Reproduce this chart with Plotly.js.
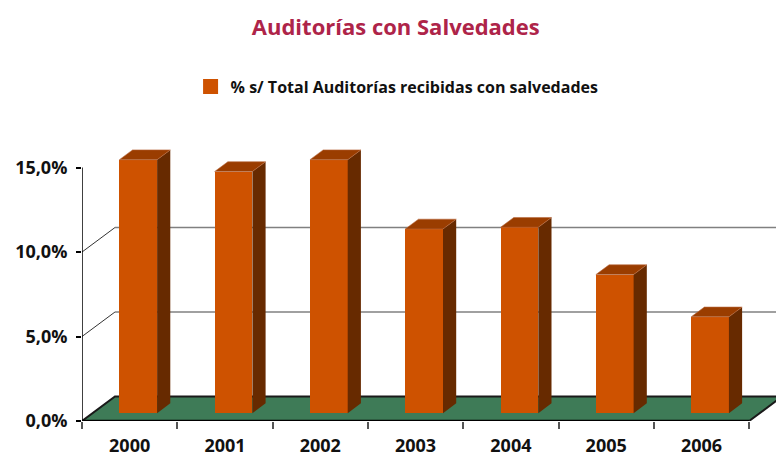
<!DOCTYPE html>
<html>
<head>
<meta charset="utf-8">
<script src="https://cdn.plot.ly/plotly-3.0.1.min.js"></script>
<style>html,body{margin:0;padding:0;background:#fff;}#chart{width:776px;height:457px;}</style>
</head>
<body>
<div id="chart"></div>
<script>
// ---- data ----
var years = ['2000', '2001', '2002', '2003', '2004', '2005', '2006'];
var pctSalvedades = [15.0, 14.3, 15.0, 10.9, 11.0, 8.2, 5.7];
var yTickVals = [0, 5, 10, 15];
var yTickText = ['0,0%', '5,0%', '10,0%', '15,0%'];
var seriesName = '% s/ Total Auditorías recibidas con salvedades';

(function () {
  // ---- 3D projection (data units) ----
  var DX = 0.346, DY = 1.45;      // full depth offset of the floor
  var D0 = 0.32, DEPTH = 0.4;     // bar front depth and bar depth (fractions of full depth)
  var BAR_W = 0.396, BAR_C = 0.59;
  var XMAX = 7.282, YMAX = 16.63;
  var n = years.length;

  var barBase = D0 * DY;
  var sdx = DEPTH * DX, sdy = DEPTH * DY;
  var xc = years.map(function (_, i) { return i + BAR_C; });

  var sideX = [], sideY = [], topX = [], topY = [];
  for (var i = 0; i < n; i++) {
    var xL = xc[i] - BAR_W / 2, xR = xc[i] + BAR_W / 2, yTop = barBase + pctSalvedades[i];
    sideX.push(xR, xR + sdx, xR + sdx, xR, xR, null);
    sideY.push(barBase, barBase + sdy, yTop + sdy, yTop, barBase, null);
    topX.push(xL, xL + sdx, xR + sdx, xR, xL, null);
    topY.push(yTop, yTop + sdy, yTop + sdy, yTop, yTop, null);
  }

  var traces = [
    { type: 'bar', x: xc, y: pctSalvedades, base: barBase, width: BAR_W,
      marker: { color: '#CE5200', line: { width: 0 } }, showlegend: false, hoverinfo: 'skip' },
    { type: 'scatter', mode: 'lines', x: sideX, y: sideY, fill: 'toself', fillcolor: '#672A00',
      line: { width: 0, color: '#672A00' }, showlegend: false, hoverinfo: 'skip' },
    { type: 'scatter', mode: 'lines', x: topX, y: topY, fill: 'toself', fillcolor: '#9A3D00',
      line: { width: 0.6, color: '#B86A40' }, showlegend: false, hoverinfo: 'skip' },
    { type: 'scatter', mode: 'markers', x: [-5], y: [-5], name: seriesName,
      marker: { symbol: 'square', size: 15, color: '#CE5200' }, hoverinfo: 'skip' }
  ];

  var shapes = [];
  [5, 10].forEach(function (v) {
    shapes.push({ type: 'line', layer: 'below', xref: 'x', yref: 'y', x0: DX, y0: v + DY, x1: XMAX + 1, y1: v + DY,
      line: { color: '#808080', width: 1.5 } });
    shapes.push({ type: 'line', layer: 'below', xref: 'x', yref: 'y', x0: 0, y0: v, x1: DX, y1: v + DY,
      line: { color: '#333333', width: 1 } });
  });
  shapes.push({ type: 'path', layer: 'below', xref: 'x', yref: 'y',
    path: 'M 0,0 L ' + n + ',0 L ' + (n + DX) + ',' + DY + ' L ' + DX + ',' + DY + ' Z',
    fillcolor: '#3E7B57', line: { color: '#1A1A1A', width: 2 } });
  shapes.push({ type: 'line', layer: 'below', xref: 'x', yref: 'y', x0: 0, y0: 0, x1: n, y1: 0,
    line: { color: '#000000', width: 2.5 } });
  shapes.push({ type: 'line', layer: 'below', xref: 'x', yref: 'y', x0: 0, y0: 0, x1: 0, y1: 15,
    line: { color: '#000000', width: 1.5 } });

  var boundaries = [];
  for (var k = 0; k <= n; k++) boundaries.push(k);

  var layout = {
    width: 776, height: 457,
    margin: { l: 82, r: 0, t: 140, b: 36, pad: 0 },
    paper_bgcolor: '#FFFFFF', plot_bgcolor: 'rgba(0,0,0,0)',
    font: { family: 'Open Sans, sans-serif', color: '#111111' },
    title: { text: 'Auditorías con Salvedades', x: 0.51, xanchor: 'center', y: 0.94, yanchor: 'middle',
      font: { size: 22, weight: 700, color: '#AE2449' } },
    showlegend: true,
    legend: { orientation: 'h', x: 0.454, xanchor: 'center', y: 1.19, yanchor: 'middle',
      font: { size: 16, weight: 700, color: '#111111' } },
    xaxis: { range: [0, XMAX], tickmode: 'array', tickvals: years.map(function (_, i) { return i + 0.5; }),
      ticktext: years, showgrid: false, zeroline: false, showline: false, ticks: '',
      ticklabelstandoff: 12,
      minor: { tickmode: 'array', tickvals: boundaries, ticks: 'outside', ticklen: 7, tickwidth: 1.5, tickcolor: '#555555', showgrid: false },
      tickfont: { size: 18, weight: 700, color: '#111111' }, fixedrange: true },
    yaxis: { range: [0, YMAX], tickmode: 'array', tickvals: yTickVals, ticktext: yTickText,
      showgrid: false, zeroline: false, showline: false, ticks: 'outside', ticklen: 5, tickwidth: 1.5, tickcolor: '#000000',
      ticklabelstandoff: 5,
      tickfont: { size: 18, weight: 700, color: '#111111' }, fixedrange: true },
    shapes: shapes,
    bargap: 0
  };

  Plotly.newPlot('chart', traces, layout, { displayModeBar: false });
})();
</script>
</body>
</html>
